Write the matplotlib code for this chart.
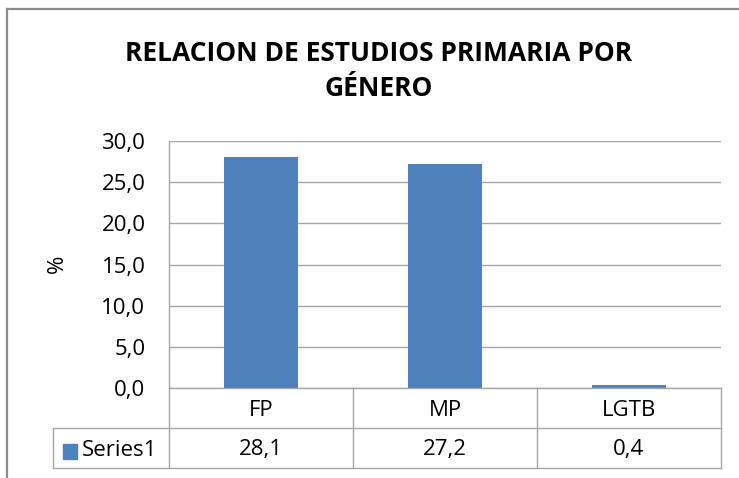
import matplotlib.pyplot as plt
from matplotlib.lines import Line2D
from matplotlib.patches import Rectangle

categories = ["FP", "MP", "LGTB"]
values = [28.1, 27.2, 0.4]
value_labels = ["28,1", "27,2", "0,4"]
series_name = "Series1"
yticks = [0, 5, 10, 15, 20, 25, 30]
title = "RELACION DE ESTUDIOS PRIMARIA POR\nGÉNERO"

W, H = 739, 478
bar_color = "#4F81BD"
grid_color = "#a6a6a6"
font = "Open Sans"
fs = 16

fig = plt.figure(figsize=(W / 100, H / 100), dpi=100)


def px_box(x0, y0, x1, y1):
    # pixel box (top-left origin) -> figure fraction rect
    return [x0 / W, 1 - y1 / H, (x1 - x0) / W, (y1 - y0) / H]


# plot area
pl, pt, pr, pb = 169, 141, 721, 388
ax = fig.add_axes(px_box(pl, pt, pr, pb))
ax.bar(range(len(categories)), values, width=0.4, color=bar_color, zorder=3)
ax.set_xlim(-0.5, len(categories) - 0.5)
ax.set_ylim(0, 30)
ax.set_yticks(yticks)
ax.set_yticklabels([f"{t:.1f}".replace(".", ",") for t in yticks],
                   fontsize=fs, family=font)
ax.set_xticks([])
ax.tick_params(axis="y", length=0, pad=17)
ax.grid(axis="y", color=grid_color, linewidth=1.0, zorder=0)
for side in ["top", "right", "bottom"]:
    ax.spines[side].set_visible(False)
ax.spines["left"].set_color(grid_color)
ax.spines["left"].set_linewidth(1.0)
fig.text(57 / W, 1 - 264 / H, "%", rotation=90, ha="center", va="center",
         fontsize=fs, family=font)

# data table under the plot
tl = 53
row1, row2, row3 = 388, 428, 468
cat_w = (pr - pl) / len(categories)
tax = fig.add_axes(px_box(tl, row1, pr, row3))
x_left = -0.5 - (pl - tl) / cat_w
x_right = len(categories) - 0.5
tax.set_xlim(x_left, x_right)
tax.set_ylim(2, 0)
tax.axis("off")
lw = 1.0
tax.plot([-0.5, x_right], [0, 0], color=grid_color, lw=lw, clip_on=False)
for yy in [1, 2]:
    tax.plot([x_left, x_right], [yy, yy], color=grid_color, lw=lw, clip_on=False)
tax.plot([x_left, x_left], [1, 2], color=grid_color, lw=lw, clip_on=False)
for i in range(len(categories) + 1):
    xx = -0.5 + i
    tax.plot([xx, xx], [0, 2], color=grid_color, lw=lw, clip_on=False)
for i, (c, v) in enumerate(zip(categories, value_labels)):
    tax.text(i, 0.55, c, ha="center", va="center", fontsize=fs, family=font)
    tax.text(i, 1.55, v, ha="center", va="center", fontsize=fs, family=font)

# legend key and series name in the label cell
fig.patches.append(Rectangle((63 / W, 1 - 459 / H), 14 / W, 15 / H,
                             transform=fig.transFigure, color=bar_color))
fig.text(82 / W, 1 - 450 / H, series_name, ha="left", va="center",
         fontsize=fs, family=font)

# title
fig.text(379 / W, 1 - 71 / H, title, ha="center", va="center",
         fontsize=19, fontweight="bold", family=font, linespacing=1.35)

# chart frame
fig.lines.append(Line2D([7 / W, 1], [1 - 9 / H, 1 - 9 / H],
                        transform=fig.transFigure, color="#8c8c8c", lw=1.6))
fig.lines.append(Line2D([7 / W, 7 / W], [0, 1 - 9 / H],
                        transform=fig.transFigure, color="#8c8c8c", lw=1.6))

fig.savefig("out.png", dpi=100)
